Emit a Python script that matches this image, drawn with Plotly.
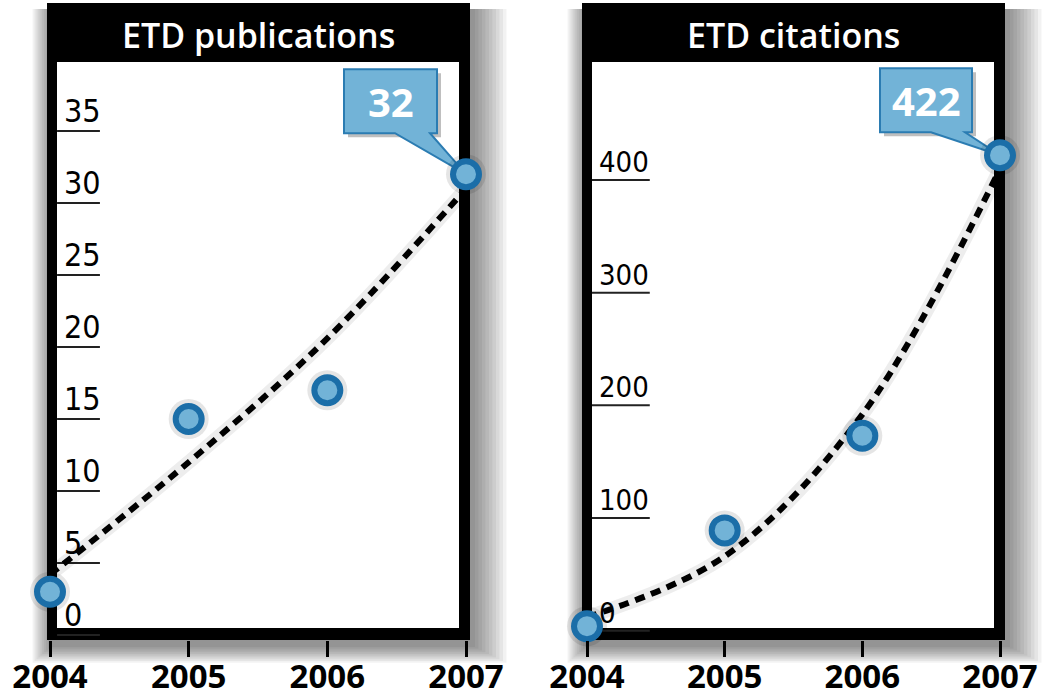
import plotly.graph_objects as go

# data
years = [2004, 2005, 2006, 2007]
pubs = [3, 15, 17, 32]
pubs_trend = [4.2, 12, 20.6, 31]
cites = [4, 89, 173, 422]
cites_trend = [12, 66, 192, 410]
pub_ticks = [0, 5, 10, 15, 20, 25, 30, 35]
cite_ticks = [0, 100, 200, 300, 400]
titles = ["ETD publications", "ETD citations"]

W, H = 1050, 698


def px(x):
    return x / W


def py(y):
    return 1 - y / H


fill_blue = "#72b3d7"
edge_blue = "#1b6ea8"
narrow = "Liberation Sans Narrow, DejaVu Sans Condensed, Liberation Sans, sans-serif"

fig = go.Figure()

panels = [
    dict(x="x", y="y", ys=pubs, trend=pubs_trend, ticks=pub_ticks, lbl=str(pubs[-1]),
         frame=(47, 470), tsize=32, line=(0.017, 0.12), lx=0.029, box=(-122, -29, 41, 105)),
    dict(x="x2", y="y2", ys=cites, trend=cites_trend, ticks=cite_ticks, lbl=str(cites[-1]),
         frame=(582, 1005), tsize=29, line=(0.012, 0.152), lx=0.024, box=(-120, -28, 23, 87)),
]

shapes = []
annotations = []

for i, p in enumerate(panels):
    # trend line
    fig.add_trace(go.Scatter(x=years, y=p["trend"], xaxis=p["x"], yaxis=p["y"], mode="lines",
                             line=dict(color="rgba(0,0,0,0.07)", width=14, shape="spline"),
                             hoverinfo="skip", showlegend=False, cliponaxis=False))
    fig.add_trace(go.Scatter(x=years, y=p["trend"], xaxis=p["x"], yaxis=p["y"], mode="lines",
                             line=dict(color="black", width=6, dash="10px,7px", shape="spline"),
                             hoverinfo="skip", showlegend=False, cliponaxis=False))
    # points
    fig.add_trace(go.Scatter(x=years, y=p["ys"], xaxis=p["x"], yaxis=p["y"], mode="markers",
                             marker=dict(size=40, color="rgba(0,0,0,0.10)"),
                             hoverinfo="skip", showlegend=False, cliponaxis=False))
    fig.add_trace(go.Scatter(x=years, y=p["ys"], xaxis=p["x"], yaxis=p["y"], mode="markers",
                             marker=dict(size=26, color=fill_blue, line=dict(color=edge_blue, width=6)),
                             showlegend=False, cliponaxis=False))

    x0, x1 = p["frame"]
    # soft drop shadow, mostly to the right and below
    for k in range(10):
        e = 2 + k * 3.5
        shapes.append(dict(type="rect", xref="paper", yref="paper", layer="below",
                           x0=px(x0 + 4 - e * 0.55), x1=px(x1 + 3 + e), y0=py(640 + 6 + e * 0.5),
                           y1=py(3 + 6),
                           fillcolor="rgba(0,0,0,0.05)", line=dict(width=0)))
    shapes.append(dict(type="rect", xref="paper", yref="paper", layer="below",
                       x0=px(x0), x1=px(x1), y0=py(640), y1=py(3),
                       fillcolor="black", line=dict(width=0)))
    shapes.append(dict(type="rect", xref="paper", yref="paper", layer="below",
                       x0=px(x0 + 10), x1=px(x1 - 11), y0=py(628), y1=py(62),
                       fillcolor="white", line=dict(width=0)))
    annotations.append(dict(xref="paper", yref="paper", x=px((x0 + x1) / 2), y=py(35),
                            text=titles[i], showarrow=False, xanchor="center", yanchor="middle",
                            font=dict(family="Open Sans", size=34, color="white", weight=600)))

    # y ticks: underline + label
    dom = p["x"] + " domain"
    for t in p["ticks"]:
        shapes.append(dict(type="line", xref=dom, yref=p["y"], x0=p["line"][0], x1=p["line"][1],
                           y0=t, y1=t, line=dict(color="#222222", width=2), layer="below"))
        annotations.append(dict(xref=dom, yref=p["y"], x=p["lx"], y=t, text=str(t), showarrow=False,
                                xanchor="left", yanchor="bottom", yshift=-1,
                                font=dict(family=narrow, size=p["tsize"], color="black")))

    # callout for the last value
    bl, br, bb, bt = p["box"]
    tail = (f"M {bl},{bb} L {bl + 51},{bb} L 0,0 L {br - 7},{bb} L {br},{bb} "
            f"L {br},{bt} L {bl},{bt} Z")
    shadow = (f"M {bl + 4},{bb - 4} L {br + 4},{bb - 4} L {br + 4},{bt - 4} L {bl + 4},{bt - 4} Z")
    shapes.append(dict(type="path", xref=p["x"], yref=p["y"], xsizemode="pixel", ysizemode="pixel",
                       xanchor=years[-1], yanchor=p["ys"][-1], path=shadow,
                       fillcolor="rgba(0,0,0,0.25)", line=dict(width=0), layer="below"))
    shapes.append(dict(type="path", xref=p["x"], yref=p["y"], xsizemode="pixel", ysizemode="pixel",
                       xanchor=years[-1], yanchor=p["ys"][-1], path=tail,
                       fillcolor=fill_blue, line=dict(color="#2b7cb2", width=2), layer="below"))
    annotations.append(dict(xref=p["x"], yref=p["y"], x=years[-1], y=p["ys"][-1], text=p["lbl"],
                            showarrow=False, xanchor="center", yanchor="middle",
                            xshift=(bl + br) / 2, yshift=(bb + bt) / 2,
                            font=dict(family="Open Sans", size=40, color="white", weight="bold")))

xcommon = dict(range=[2004, 2007], tickvals=years, ticktext=[str(y) for y in years],
               showgrid=False, zeroline=False, showline=False, ticks="outside", ticklen=16,
               tickwidth=3, tickcolor="black", fixedrange=True, automargin=False,
               ticklabelstandoff=-9,
               tickfont=dict(family="Open Sans", size=33, color="black", weight="bold"))
ycommon = dict(showgrid=False, zeroline=False, showline=False, showticklabels=False,
               ticks="", fixedrange=True, automargin=False, domain=[py(640), py(3)])

fig.update_layout(
    width=W, height=H,
    margin=dict(l=0, r=0, t=0, b=0, autoexpand=False),
    paper_bgcolor="white",
    plot_bgcolor="rgba(0,0,0,0)",
    xaxis=dict(xcommon, domain=[px(50), px(466)], anchor="y"),
    yaxis=dict(ycommon, range=[-5 / 14.4, 632 / 14.4], anchor="x"),
    xaxis2=dict(xcommon, domain=[px(587), px(1000)], anchor="y2"),
    yaxis2=dict(ycommon, range=[-9.3 / 1.1267, 627.7 / 1.1267], anchor="x2"),
    shapes=shapes,
    annotations=annotations,
    showlegend=False,
)

# page body has a default 8px margin; drop it so the figure sits at the window corner
fig.write_html("out.html", config={"displayModeBar": False},
               post_script="document.body.style.margin='0';")
